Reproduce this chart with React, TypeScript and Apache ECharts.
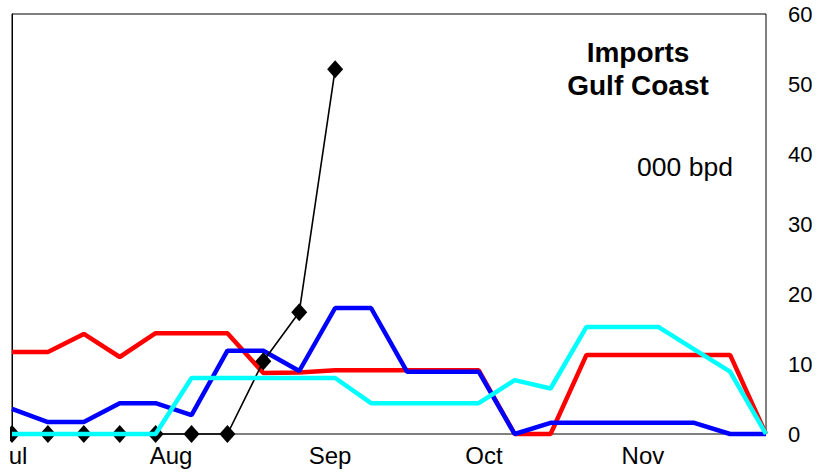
import React, { useEffect, useRef } from "react";
import * as echarts from "echarts";

const dates = [
  "2005-07-01", "2005-07-08", "2005-07-15", "2005-07-22", "2005-07-29",
  "2005-08-05", "2005-08-12", "2005-08-19", "2005-08-26",
  "2005-09-02", "2005-09-09", "2005-09-16", "2005-09-23", "2005-09-30",
  "2005-10-07", "2005-10-14", "2005-10-21", "2005-10-28",
  "2005-11-04", "2005-11-11", "2005-11-18", "2005-11-25",
];
const redValues = [11.7, 11.7, 14.3, 11.0, 14.4, 14.4, 14.4, 8.7, 8.8, 9.1, 9.1, 9.1, 9.1, 9.1, 0, 0, 11.3, 11.3, 11.3, 11.3, 11.3, 0];
const blueValues = [3.6, 1.7, 1.7, 4.4, 4.4, 2.7, 11.9, 11.9, 9.0, 18.0, 18.0, 8.9, 8.9, 8.9, 0, 1.6, 1.6, 1.6, 1.6, 1.6, 0, 0];
const cyanValues = [0, 0, 0, 0, 0, 8.0, 8.0, 8.0, 8.0, 8.0, 4.4, 4.4, 4.4, 4.4, 7.7, 6.5, 15.3, 15.3, 15.3, 12.1, 8.9, 0];
const blackValues = [0, 0, 0, 0, 0, 0, 0, 10.4, 17.4, 52.1];

const monthStarts = ["2005-07-01", "2005-08-01", "2005-09-01", "2005-10-01", "2005-11-01"];
const monthLabels = ["Jul", "Aug", "Sep", "Oct", "Nov"];

const titleLines = ["Imports", "Gulf Coast"];
const unitText = "000 bpd";

const FONT = "'Liberation Sans', Arial, sans-serif";
const DAY = 86400000;

// days since the first date
function dayOf(s: string): number {
  const [y, m, d] = s.split("-").map(Number);
  const [y0, m0, d0] = dates[0].split("-").map(Number);
  return Math.round((Date.UTC(y, m - 1, d) - Date.UTC(y0, m0 - 1, d0)) / DAY);
}

function pairs(vals: number[]) {
  return vals.map((v, i) => [dayOf(dates[i]), v]);
}

export default function App() {
  const ref = useRef<HTMLDivElement>(null);
  useEffect(() => {
    if (!ref.current) return;
    const chart = echarts.init(ref.current, undefined, { renderer: "svg" });
    const monthDays = monthStarts.map(dayOf);
    chart.setOption({
      animation: false,
      backgroundColor: "#fff",
      textStyle: { fontFamily: FONT },
      grid: {
        left: 2,
        right: 58,
        top: 14,
        bottom: 40,
        show: true,
        borderColor: "#000",
        borderWidth: 1,
        containLabel: false,
        outerBoundsMode: "none",
      },
      xAxis: {
        type: "value",
        min: 0,
        max: dayOf(dates[dates.length - 1]),
        axisLine: { show: true, onZero: false, lineStyle: { color: "#808080", width: 1 } },
        axisTick: { show: false },
        splitLine: { show: false },
        axisLabel: {
          customValues: monthDays,
          showMinLabel: true,
          hideOverlap: false,
          color: "#000",
          fontSize: 24,
          fontFamily: FONT,
          margin: 9,
          formatter: (v: number) => {
            const i = monthDays.indexOf(v);
            return i >= 0 ? monthLabels[i] : "";
          },
        },
      },
      yAxis: {
        type: "value",
        position: "right",
        min: 0,
        max: 60,
        interval: 10,
        axisLine: { show: true, lineStyle: { color: "#000", width: 1 } },
        axisTick: { show: false },
        splitLine: { show: false },
        axisLabel: { color: "#000", fontSize: 22, fontFamily: FONT, margin: 22 },
      },
      graphic: [
        {
          type: "text",
          x: 628,
          y: 36,
          style: {
            text: titleLines.join("\n"),
            fontSize: 28,
            fontWeight: "bold",
            fontFamily: FONT,
            fill: "#000",
            align: "center",
            verticalAlign: "top",
            lineHeight: 33,
          },
        },
        {
          type: "text",
          x: 675,
          y: 167,
          style: {
            text: unitText,
            fontSize: 26.5,
            fontFamily: FONT,
            fill: "#000",
            align: "center",
            verticalAlign: "middle",
          },
        },
      ],
      series: [
        {
          type: "line",
          data: pairs(redValues),
          showSymbol: false,
          clip: false,
          lineStyle: { color: "#ff0000", width: 4.5 },
          itemStyle: { color: "#ff0000" },
          z: 2,
        },
        {
          type: "line",
          data: pairs(blueValues),
          showSymbol: false,
          clip: false,
          lineStyle: { color: "#0000ff", width: 4.5 },
          itemStyle: { color: "#0000ff" },
          z: 3,
        },
        {
          type: "line",
          data: pairs(blackValues),
          symbol: "diamond",
          symbolSize: [16, 18],
          showAllSymbol: true,
          clip: false,
          lineStyle: { color: "#000", width: 1.6 },
          itemStyle: { color: "#000" },
          z: 4,
        },
        {
          type: "line",
          data: pairs(cyanValues),
          showSymbol: false,
          clip: false,
          lineStyle: { color: "#00ffff", width: 4.5 },
          itemStyle: { color: "#00ffff" },
          z: 5,
        },
      ],
    });
    return () => chart.dispose();
  }, []);
  return (
    <div
      ref={ref}
      style={{ position: "absolute", left: 10, top: 0, width: 814, height: 474, overflow: "hidden", background: "#fff" }}
    />
  );
}
